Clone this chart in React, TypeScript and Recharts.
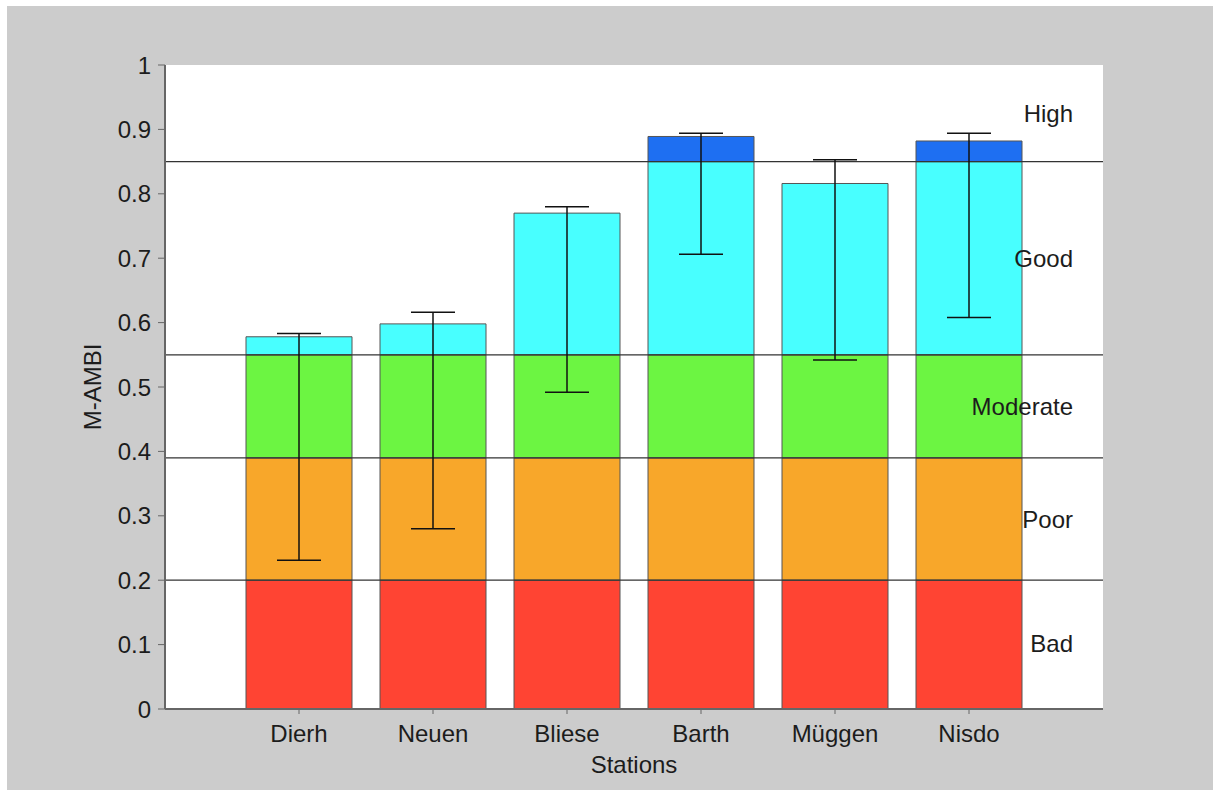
import React from 'react';
import {
  ComposedChart, Bar, Line, ErrorBar, XAxis, YAxis, ReferenceLine, CartesianGrid,
} from 'recharts';

// Stations and their M-AMBI means with the min / max of the error bars
const stations = ['Dierh', 'Neuen', 'Bliese', 'Barth', 'Müggen', 'Nisdo'];
const meanValues = [0.578, 0.598, 0.770, 0.889, 0.816, 0.882];
const errLow = [0.231, 0.280, 0.492, 0.706, 0.542, 0.608];
const errHigh = [0.583, 0.616, 0.780, 0.894, 0.853, 0.894];

// Quality classes: upper bounds and colours
const classNames = ['Bad', 'Poor', 'Moderate', 'Good', 'High'];
const classBounds = [0.2, 0.39, 0.55, 0.85, 1.0];
const classColors = ['#ff4433', '#f8a72a', '#6cf542', '#48ffff', '#1e6ff2'];
// where the class names sit on the y axis
const classLabelY = [0.102, 0.295, 0.469, 0.7, 0.925];

const yTicks = [0, 0.1, 0.2, 0.3, 0.4, 0.5, 0.6, 0.7, 0.8, 0.9, 1];

// split each mean into the class bands for stacking
const data = stations.map((station, i) => {
  const v = meanValues[i];
  const row: Record<string, any> = {
    station,
    mean: v,
    err: [v - errLow[i], errHigh[i] - v],
  };
  let lo = 0;
  classNames.forEach((name, k) => {
    const hi = classBounds[k];
    row[name] = v > lo ? Math.min(v, hi) - lo : 0;
    lo = hi;
  });
  return row;
});

const textColor = '#1c1c1c';
const fontSize = 24;

export default function App() {
  return (
    <div
      style={{
        position: 'absolute',
        left: 7,
        top: 6,
        width: 1206,
        height: 784,
        background: '#cccccc',
        fontFamily: '"Liberation Sans", Arial, sans-serif',
      }}
    >
      <ComposedChart
        width={1206}
        height={784}
        data={data}
        margin={{ top: 59, right: 110, left: 78, bottom: 11 }}
      >
        <CartesianGrid fill="#ffffff" horizontal={false} vertical={false} />
        <XAxis
          dataKey="station"
          type="category"
          padding={{ left: 67, right: 67 }}
          height={70}
          axisLine={{ stroke: '#666', strokeWidth: 2 }}
          tickLine={{ stroke: '#666' }}
          tickSize={5}
          tickMargin={11}
          tick={{ fill: textColor, fontSize }}
          label={{ value: 'Stations', position: 'insideBottom', offset: 6, fill: textColor, fontSize }}
        />
        <YAxis
          type="number"
          domain={[0, 1]}
          ticks={yTicks}
          width={80}
          axisLine={{ stroke: '#666', strokeWidth: 2 }}
          tickLine={{ stroke: '#666' }}
          tickSize={7}
          tickMargin={7}
          tick={{ fill: textColor, fontSize }}
          label={{
            value: 'M-AMBI',
            angle: -90,
            position: 'insideLeft',
            offset: 7,
            fill: textColor,
            fontSize,
            style: { textAnchor: 'middle' },
          }}
        />
        {classNames.map((name, k) => (
          <Bar
            key={name}
            dataKey={name}
            stackId="a"
            fill={classColors[k]}
            stroke="#555"
            strokeWidth={1}
            barSize={106}
            isAnimationActive={false}
          />
        ))}
        {classBounds.slice(0, 4).map((b) => (
          <ReferenceLine key={b} y={b} stroke="#333" strokeWidth={1.3} />
        ))}
        {classNames.map((name, k) => (
          <ReferenceLine
            key={'lbl' + name}
            y={classLabelY[k]}
            stroke="none"
            label={{ value: name, position: 'insideRight', offset: 30, fill: textColor, fontSize }}
          />
        ))}
        <Line
          dataKey="mean"
          stroke="none"
          dot={false}
          activeDot={false}
          legendType="none"
          isAnimationActive={false}
        >
          <ErrorBar dataKey="err" width={22} stroke="#111" strokeWidth={1.5} direction="y" />
        </Line>
      </ComposedChart>
    </div>
  );
}
